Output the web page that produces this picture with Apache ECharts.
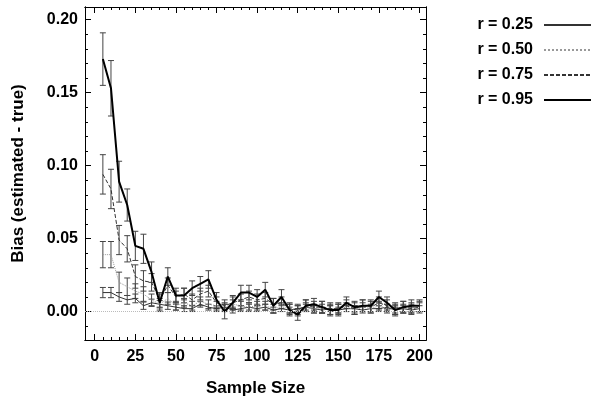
<!DOCTYPE html>
<html>
<head>
<meta charset="utf-8">
<script src="https://cdn.jsdelivr.net/npm/echarts@6/dist/echarts.min.js"></script>
<style>
  html, body { margin: 0; padding: 0; background: #fff; }
  #chart { width: 600px; height: 402px; }
</style>
</head>
<body>
<div id="chart"></div>
<script>
// sample sizes
var sampleSize = [5, 10, 15, 20, 25, 30, 35, 40, 45, 50, 55, 60, 65, 70, 75, 80, 85, 90, 95, 100,
  105, 110, 115, 120, 125, 130, 135, 140, 145, 150, 155, 160, 165, 170, 175, 180, 185, 190, 195, 200];

// mean bias per r
var r25 = [0.013, 0.013, 0.010, 0.008, 0.009, 0.004, 0.006, 0.005, 0.004, 0.003, 0.002, 0.002, 0.005, 0.003, 0.002, 0.003, 0.001, 0.002, 0.003, 0.002,
  0.003, 0.001, 0.002, 0.001, 0.002, 0.003, 0.002, 0.001, 0.002, 0.001, 0.002, 0.002, 0.001, 0.002, 0.002, 0.003, 0.001, 0.002, 0.001, 0.002];
var r50 = [0.039, 0.039, 0.020, 0.017, 0.014, 0.012, 0.008, 0.005, 0.009, 0.004, 0.006, 0.004, 0.007, 0.005, 0.004, 0.003, 0.005, 0.004, 0.003, 0.004,
  0.004, 0.002, 0.003, 0.002, 0.001, 0.003, 0.002, 0.002, 0.001, 0.002, 0.003, 0.001, 0.003, 0.002, 0.004, 0.002, 0.001, 0.002, 0.002, 0.003];
var r75 = [0.094, 0.084, 0.049, 0.043, 0.024, 0.021, 0.020, 0.008, 0.018, 0.010, 0.012, 0.008, 0.012, 0.014, 0.006, 0.004, 0.006, 0.008, 0.010, 0.008,
  0.009, 0.005, 0.006, 0.002, 0.001, 0.004, 0.003, 0.003, 0.002, 0.002, 0.004, 0.002, 0.004, 0.003, 0.006, 0.004, 0.002, 0.003, 0.002, 0.003];
var r95 = [0.173, 0.153, 0.089, 0.073, 0.045, 0.043, 0.027, 0.006, 0.024, 0.011, 0.011, 0.016, 0.019, 0.022, 0.008, 0.000, 0.006, 0.013, 0.013, 0.010,
  0.015, 0.004, 0.010, 0.001, -0.002, 0.004, 0.005, 0.003, 0.001, 0.001, 0.006, 0.003, 0.004, 0.004, 0.010, 0.006, 0.001, 0.003, 0.004, 0.004];

// standard errors (half length of the error bars)
var se25 = [0.0035, 0.0035, 0.003, 0.003, 0.003, 0.0025, 0.0025, 0.0025, 0.0025, 0.002, 0.002, 0.002, 0.002, 0.002, 0.002, 0.002, 0.002, 0.002, 0.002, 0.002,
  0.002, 0.002, 0.002, 0.002, 0.002, 0.002, 0.002, 0.002, 0.002, 0.002, 0.002, 0.002, 0.002, 0.002, 0.002, 0.002, 0.002, 0.002, 0.002, 0.002];
var se50 = [0.009, 0.009, 0.007, 0.006, 0.005, 0.005, 0.004, 0.004, 0.004, 0.003, 0.003, 0.003, 0.003, 0.003, 0.003, 0.003, 0.003, 0.003, 0.003, 0.003,
  0.003, 0.003, 0.003, 0.003, 0.003, 0.003, 0.003, 0.003, 0.003, 0.003, 0.003, 0.003, 0.003, 0.003, 0.003, 0.003, 0.003, 0.003, 0.003, 0.003];
var se75 = [0.0135, 0.0135, 0.010, 0.009, 0.008, 0.007, 0.006, 0.005, 0.005, 0.004, 0.004, 0.004, 0.004, 0.004, 0.004, 0.004, 0.004, 0.004, 0.004, 0.004,
  0.004, 0.004, 0.004, 0.004, 0.004, 0.004, 0.004, 0.004, 0.004, 0.004, 0.004, 0.004, 0.004, 0.004, 0.004, 0.004, 0.004, 0.004, 0.004, 0.004];
var se95 = [0.018, 0.019, 0.014, 0.011, 0.010, 0.010, 0.007, 0.006, 0.006, 0.005, 0.005, 0.005, 0.005, 0.006, 0.005, 0.005, 0.005, 0.005, 0.005, 0.005,
  0.005, 0.005, 0.005, 0.004, 0.004, 0.004, 0.004, 0.004, 0.004, 0.004, 0.004, 0.004, 0.004, 0.004, 0.004, 0.004, 0.004, 0.004, 0.004, 0.004];

var xMajor = [0, 25, 50, 75, 100, 125, 150, 175, 200];
var xMinor = [0, 5, 10, 15, 20, 25, 30, 35, 40, 45, 50, 55, 60, 65, 70, 75, 80, 85, 90, 95, 100,
  105, 110, 115, 120, 125, 130, 135, 140, 145, 150, 155, 160, 165, 170, 175, 180, 185, 190, 195, 200];
var yMajor = [0, 0.05, 0.10, 0.15, 0.20];
var yMinor = [-0.01, 0, 0.01, 0.02, 0.03, 0.04, 0.05, 0.06, 0.07, 0.08, 0.09, 0.10,
  0.11, 0.12, 0.13, 0.14, 0.15, 0.16, 0.17, 0.18, 0.19, 0.20];

var FONT = 'Liberation Sans';
var XMIN = -6, XMAX = 204, YMIN = -0.0195, YMAX = 0.2087;

function pairs(vals) {
  return sampleSize.map(function (n, i) { return [n, vals[i]]; });
}
function barData(vals, se) {
  return sampleSize.map(function (n, i) { return [n, vals[i] - se[i], vals[i] + se[i]]; });
}

function errorBars(name, vals, se) {
  return {
    name: name,
    type: 'custom',
    silent: true,
    z: 1,
    data: barData(vals, se),
    renderItem: function (params, api) {
      var lo = api.coord([api.value(0), api.value(1)]);
      var hi = api.coord([api.value(0), api.value(2)]);
      var w = 3;
      var st = { stroke: '#444', lineWidth: 1 };
      return {
        type: 'group',
        children: [
          { type: 'line', shape: { x1: lo[0], y1: lo[1], x2: hi[0], y2: hi[1] }, style: st },
          { type: 'line', shape: { x1: lo[0] - w, y1: lo[1], x2: lo[0] + w, y2: lo[1] }, style: st },
          { type: 'line', shape: { x1: hi[0] - w, y1: hi[1], x2: hi[0] + w, y2: hi[1] }, style: st }
        ]
      };
    }
  };
}

function lineSeries(name, vals, style) {
  return {
    name: name,
    type: 'line',
    data: pairs(vals),
    symbol: 'none',
    showSymbol: false,
    z: 3,
    color: style.color,
    lineStyle: style
  };
}

function axisX(pos, values, len, labels) {
  return {
    type: 'value', position: pos, min: XMIN, max: XMAX,
    axisLine: { show: true, onZero: false, lineStyle: { color: '#000', width: 1 } },
    axisTick: { show: true, inside: true, length: len, customValues: values, lineStyle: { color: '#000' } },
    axisLabel: labels ? {
      show: true, customValues: xMajor, margin: 9,
      color: '#000', fontFamily: FONT, fontWeight: 'bold', fontSize: 16
    } : { show: false },
    splitLine: { show: false }
  };
}
function axisY(pos, values, len, labels) {
  return {
    type: 'value', position: pos, min: YMIN, max: YMAX,
    axisLine: { show: true, onZero: false, lineStyle: { color: '#000', width: 1 } },
    axisTick: { show: true, inside: true, length: len, customValues: values, lineStyle: { color: '#000' } },
    axisLabel: labels ? {
      show: true, customValues: yMajor, margin: 7,
      color: '#000', fontFamily: FONT, fontWeight: 'bold', fontSize: 16,
      formatter: function (v) { return v.toFixed(2); }
    } : { show: false },
    splitLine: { show: false }
  };
}

var chart = echarts.init(document.getElementById('chart'));

var xAxes = [axisX('bottom', xMajor, 6, true), axisX('bottom', xMinor, 3, false),
  axisX('top', xMajor, 6, false), axisX('top', xMinor, 3, false)];
xAxes[0].name = 'Sample Size';
xAxes[0].nameLocation = 'middle';
xAxes[0].nameGap = 40;
xAxes[0].nameTextStyle = { color: '#000', fontFamily: FONT, fontWeight: 'bold', fontSize: 17 };

var yAxes = [axisY('left', yMajor, 6, true), axisY('left', yMinor, 3, false),
  axisY('right', yMajor, 6, false), axisY('right', yMinor, 3, false)];
yAxes[0].name = 'Bias (estimated - true)';
yAxes[0].nameLocation = 'middle';
yAxes[0].nameGap = 58;
yAxes[0].nameTextStyle = { color: '#000', fontFamily: FONT, fontWeight: 'bold', fontSize: 17 };

var s25 = lineSeries('r = 0.25', r25, { color: '#333', width: 1, type: 'solid' });
s25.markLine = {
  silent: true, symbol: 'none', label: { show: false },
  lineStyle: { color: '#bbb', type: 'dotted', width: 1 },
  data: [{ yAxis: 0 }]
};

var option = {
  animation: false,
  backgroundColor: '#fff',
  grid: { left: 85, right: 174, top: 7, bottom: 55, containLabel: false },
  legend: {
    orient: 'vertical',
    right: 3,
    top: 12,
    align: 'right',
    itemWidth: 47,
    itemHeight: 16,
    itemGap: 9,
    itemStyle: { opacity: 0 },
    textStyle: { color: '#000', fontFamily: FONT, fontWeight: 'bold', fontSize: 16, lineHeight: 16, padding: [0, 6, 0, 0] },
    data: ['r = 0.25', 'r = 0.50', 'r = 0.75', 'r = 0.95']
  },
  xAxis: xAxes,
  yAxis: yAxes,
  series: [
    errorBars('e25', r25, se25),
    errorBars('e50', r50, se50),
    errorBars('e75', r75, se75),
    errorBars('e95', r95, se95),
    s25,
    lineSeries('r = 0.50', r50, { color: '#999', width: 1, type: 'dotted' }),
    lineSeries('r = 0.75', r75, { color: '#333', width: 1, type: [4, 2] }),
    lineSeries('r = 0.95', r95, { color: '#000', width: 2, type: 'solid' })
  ]
};

chart.setOption(option);
</script>
</body>
</html>
